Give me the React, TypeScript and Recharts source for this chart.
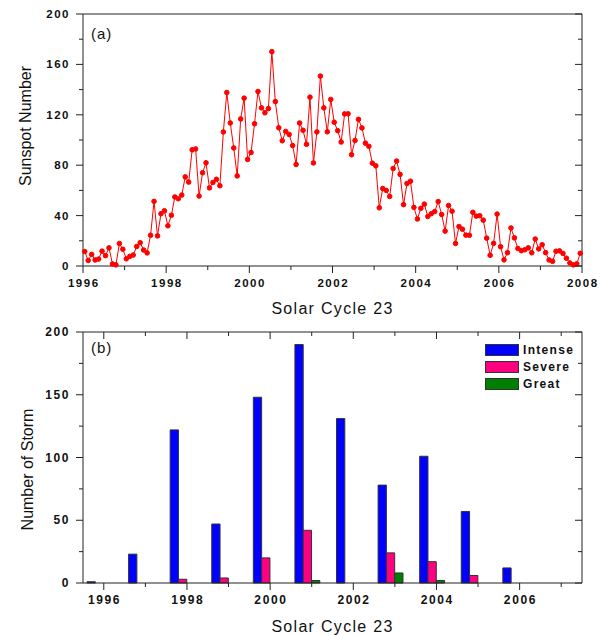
import React from 'react';
import { LineChart, Line, BarChart, Bar, XAxis, YAxis, Legend } from 'recharts';

// monthly sunspot numbers, solar cycle 23
const sunspotYears = [1996, 1997, 1998, 1999, 2000, 2001, 2002, 2003, 2004, 2005, 2006, 2007];
const ssn1996 = [11.5, 4.4, 9.2, 4.8, 5.5, 11.8, 8.2, 14.4, 1.6, 0.9, 17.9, 13.3];
const ssn1997 = [5.7, 7.6, 8.7, 15.5, 18.5, 12.7, 10.4, 24.4, 51.3, 23.9, 41.5, 43.8];
const ssn1998 = [31.9, 40.3, 54.8, 53.4, 56.3, 70.7, 66.6, 92.2, 92.9, 55.5, 74.0, 81.9];
const ssn1999 = [62.0, 66.3, 68.8, 63.7, 106.4, 137.7, 113.5, 93.7, 71.5, 116.7, 133.2, 84.6];
const ssn2000 = [90.1, 112.9, 138.5, 125.5, 121.6, 124.9, 170.1, 130.5, 109.7, 99.4, 106.8, 104.4];
const ssn2001 = [95.6, 80.6, 113.5, 107.7, 96.6, 134.0, 81.8, 106.4, 150.7, 125.5, 106.5, 132.2];
const ssn2002 = [114.1, 107.4, 98.4, 120.7, 120.8, 88.3, 99.6, 116.4, 109.6, 97.5, 95.0, 81.6];
const ssn2003 = [79.5, 46.2, 61.5, 60.0, 55.2, 77.4, 83.3, 72.7, 48.7, 65.5, 67.3, 46.5];
const ssn2004 = [37.3, 45.8, 49.1, 39.3, 41.5, 43.2, 51.1, 40.9, 27.7, 48.0, 43.5, 17.9];
const ssn2005 = [31.3, 29.2, 24.5, 24.4, 42.6, 39.6, 39.9, 36.4, 22.1, 8.5, 18.0, 41.2];
const ssn2006 = [15.3, 4.9, 10.6, 30.2, 22.3, 13.9, 12.2, 12.9, 14.4, 10.5, 21.4, 13.6];
const ssn2007 = [16.9, 10.6, 4.8, 3.7, 11.7, 12.0, 10.0, 6.2, 2.4, 0.9, 1.7, 10.1];
const monthly = [ssn1996, ssn1997, ssn1998, ssn1999, ssn2000, ssn2001, ssn2002, ssn2003, ssn2004, ssn2005, ssn2006, ssn2007];

// storms per year
const stormYears = ['1996', '1997', '1998', '1999', '2000', '2001', '2002', '2003', '2004', '2005', '2006', '2007'];
const intense = [1, 23, 122, 47, 148, 190, 131, 78, 101, 57, 12, 0];
const severe = [0, 0, 3, 4, 20, 42, 0, 24, 17, 6, 0, 0];
const great = [0, 0, 0, 0, 0, 2, 0, 8, 2, 0, 0, 0];

const yearTicksA = [1996, 1997, 1998, 1999, 2000, 2001, 2002, 2003, 2004, 2005, 2006, 2007, 2008];
const ssnTicks = [0, 20, 40, 60, 80, 100, 120, 140, 160, 180, 200];
const stormTicks = [0, 25, 50, 75, 100, 125, 150, 175, 200];

const stormSeries = [
  { key: 'intense', name: 'Intense', color: '#0000ff' },
  { key: 'severe', name: 'Severe', color: '#ff0080' },
  { key: 'great', name: 'Great', color: '#008000' },
];

const sunspotData = sunspotYears.flatMap((yr, i) =>
  monthly[i].map((v, m) => ({ t: yr + (m + 0.5) / 12, ssn: v }))
);

const stormData = stormYears.map((year, i) => ({
  year,
  intense: intense[i],
  severe: severe[i],
  great: great[i],
}));

const FONT = '"Liberation Sans", Arial, sans-serif';
const INK = '#222';
const TICK_SIZE = 8;
const TICK_GAP = 4;

// draws major/minor ticks (and labels on the major ones) like Origin does
function frameTick(side: 'left' | 'bottom' | 'top' | 'right', isMajor: (v: number) => boolean, fontSize: number, spacing: number) {
  return (props: any) => {
    const { x, y, payload } = props;
    const v = Number(payload.value);
    const major = isMajor(v);
    const len = major ? 7 : 4;
    if (side === 'left' || side === 'right') {
      const ax = x + TICK_SIZE + TICK_GAP;
      return (
        <g>
          <line x1={ax - len} y1={y} x2={ax} y2={y} stroke={INK} strokeWidth={1} />
          {side === 'left' && major && (
            <text x={ax - 13} y={y} dy="0.35em" textAnchor="end" fontSize={fontSize} fontWeight="bold"
              letterSpacing={spacing} fontFamily={FONT} fill="#111">{payload.value}</text>
          )}
        </g>
      );
    }
    const ay = y - TICK_SIZE - TICK_GAP;
    return (
      <g>
        <line x1={x} y1={ay} x2={x} y2={ay + len} stroke={INK} strokeWidth={1} />
        {side === 'bottom' && major && (
          <text x={x + spacing / 2} y={ay + 21} textAnchor="middle" fontSize={fontSize} fontWeight="bold"
            letterSpacing={spacing} fontFamily={FONT} fill="#111">{payload.value}</text>
        )}
      </g>
    );
  };
}

const yTitle = (text: string, bx: number, dy: number) => (props: any) => {
  const vb = props.viewBox;
  const x = vb.x + bx;
  const y = vb.y + vb.height / 2 + dy;
  return (
    <text x={x} y={y} transform={`rotate(-90 ${x} ${y})`} textAnchor="middle" fontSize={16}
      fontFamily={FONT} fill="#111">{text}</text>
  );
};

const panelTag = (text: string, dy: number) => (props: any) => {
  const vb = props.viewBox;
  return (
    <text x={vb.x + 8} y={vb.y + dy} fontSize={15} letterSpacing={1} fontFamily={FONT} fill="#111">{text}</text>
  );
};

const xTitle = { value: 'Solar Cycle 23', position: 'insideBottom' as const, offset: 2, fontSize: 16, letterSpacing: 1.3, fill: '#111', fontFamily: FONT };

const even = (v: number) => v % 2 === 0;

function StormLegend() {
  return (
    <div style={{ fontFamily: FONT }}>
      {stormSeries.map((s) => (
        <div key={s.key} style={{ display: 'flex', alignItems: 'center', height: 16.7 }}>
          <span style={{ width: 34, height: 12, background: s.color, border: '1px solid #333', boxSizing: 'border-box' }} />
          <span style={{ marginLeft: 4, fontSize: 12, fontWeight: 'bold', letterSpacing: 1.3, color: '#111' }}>{s.name}</span>
        </div>
      ))}
    </div>
  );
}

// top/right axes are 1px thick mirrored copies so they draw the frame with inward ticks
export default function App() {
  return (
    <div style={{ position: 'absolute', left: 0, top: 0, width: 600, height: 635, background: '#fff' }}>
      <LineChart width={600} height={318} data={sunspotData} margin={{ top: 14, right: 18, bottom: 2, left: 0 }}>
        <XAxis xAxisId="b" dataKey="t" type="number" domain={[1996, 2008]} ticks={yearTicksA} interval={0}
          height={50} tickSize={TICK_SIZE} tickMargin={TICK_GAP} tickLine={false} axisLine={{ stroke: INK }}
          tick={frameTick('bottom', even, 11.5, 1.5)} label={xTitle} />
        <XAxis xAxisId="t" orientation="top" mirror type="number" domain={[1996, 2008]} ticks={yearTicksA} interval={0}
          height={1} tickSize={TICK_SIZE} tickMargin={TICK_GAP} tickLine={false} axisLine={{ stroke: INK }}
          tick={frameTick('top', even, 11.5, 1.5)} allowDataOverflow label={{ content: panelTag('(a)', 25) }} />
        <YAxis yAxisId="l" domain={[0, 200]} ticks={ssnTicks} interval={0} width={83}
          tickSize={TICK_SIZE} tickMargin={TICK_GAP} tickLine={false} axisLine={{ stroke: INK }}
          tick={frameTick('left', (v) => v % 40 === 0, 11.5, 1.5)} label={{ content: yTitle('Sunspot Number', 31, -14) }} />
        <YAxis yAxisId="r" orientation="right" mirror domain={[0, 200]} ticks={ssnTicks} interval={0} width={1}
          tickSize={TICK_SIZE} tickMargin={TICK_GAP} tickLine={false} axisLine={{ stroke: INK }}
          tick={frameTick('right', (v) => v % 40 === 0, 11.5, 1.5)} allowDataOverflow />
        <Line xAxisId="b" yAxisId="l" dataKey="ssn" stroke="#ff0000" strokeWidth={1}
          dot={{ r: 2.3, fill: '#ff0000', stroke: '#ff0000', strokeWidth: 1 }} activeDot={false}
          isAnimationActive={false} />
      </LineChart>

      <BarChart width={600} height={317} data={stormData} margin={{ top: 14, right: 18, bottom: 2, left: 0 }}
        barSize={8.3} barGap={0} barCategoryGap={0}>
        <XAxis xAxisId="b" dataKey="year" interval={0} height={50}
          tickSize={TICK_SIZE} tickMargin={TICK_GAP} tickLine={false} axisLine={{ stroke: INK }}
          tick={frameTick('bottom', (v) => even(Number(v)), 12, 1.6)} label={{ ...xTitle, offset: 1.5 }} />
        <XAxis xAxisId="t" dataKey="year" orientation="top" mirror interval={0} height={1}
          tickSize={TICK_SIZE} tickMargin={TICK_GAP} tickLine={false} axisLine={{ stroke: INK }}
          tick={frameTick('top', (v) => even(Number(v)), 12, 1.6)} label={{ content: panelTag('(b)', 21) }} />
        <YAxis yAxisId="l" domain={[0, 200]} ticks={stormTicks} interval={0} width={83}
          tickSize={TICK_SIZE} tickMargin={TICK_GAP} tickLine={false} axisLine={{ stroke: INK }}
          tick={frameTick('left', (v) => v % 50 === 0, 12, 1.6)} label={{ content: yTitle('Number of Storm', 33, 12) }} />
        <YAxis yAxisId="r" orientation="right" mirror domain={[0, 200]} ticks={stormTicks} interval={0} width={1}
          tickSize={TICK_SIZE} tickMargin={TICK_GAP} tickLine={false} axisLine={{ stroke: INK }}
          tick={frameTick('right', (v) => v % 50 === 0, 12, 1.6)} allowDataOverflow />
        <Legend layout="vertical" align="center" verticalAlign="middle" content={() => <StormLegend />}
          wrapperStyle={{ left: 485, top: 24, width: 110, bottom: 'auto', right: 'auto' }} />
        {stormSeries.map((s) => (
          <Bar key={s.key} xAxisId="b" yAxisId="l" dataKey={s.key} name={s.name} fill={s.color}
            stroke="#333" strokeWidth={1} isAnimationActive={false} />
        ))}
        {/* empty slot: Origin draws each year's group off-centre, left of the tick */}
        <Bar xAxisId="b" yAxisId="l" dataKey={() => 0} legendType="none" isAnimationActive={false} />
      </BarChart>
    </div>
  );
}
